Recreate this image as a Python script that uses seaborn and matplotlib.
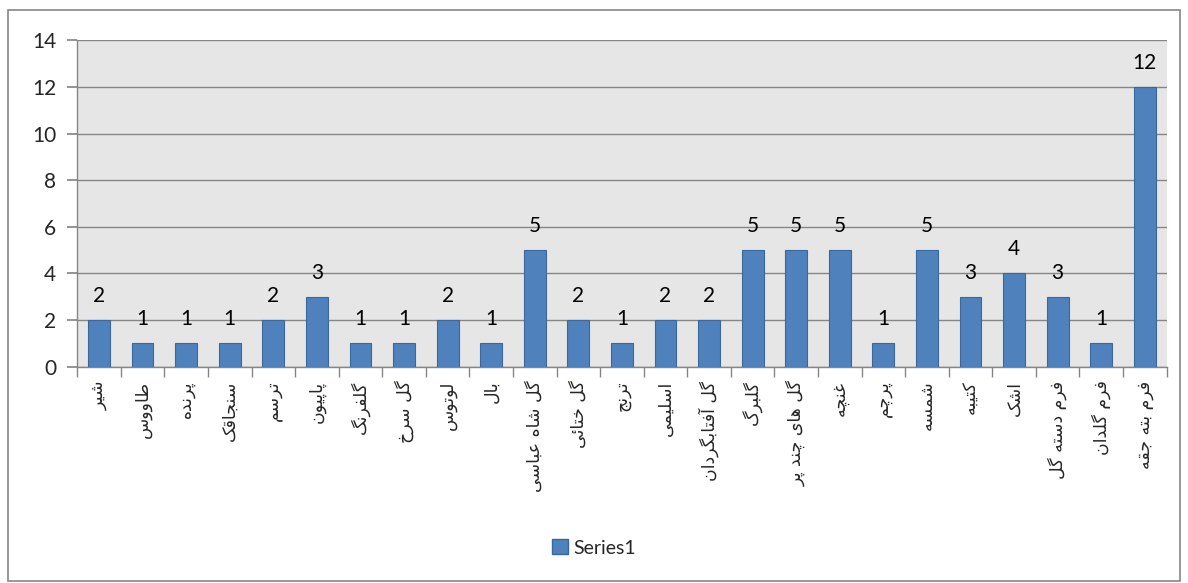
import matplotlib
matplotlib.use("Agg")
import matplotlib.pyplot as plt
import seaborn as sns
import pandas as pd
import numpy as np
from matplotlib.patches import Rectangle
from matplotlib.ticker import FixedLocator

# data
labels = ["شیر", "طاووس", "پرنده", "سنجاقک", "ترسم", "پاپیون", "گلفرنگ", "گل سرخ",
          "لوتوس", "بال", "گل شاه عباسی", "گل ختائی", "ترنج", "اسلیمی",
          "گل آفتابگردان", "گلبرگ", "گل های چند پر", "غنچه", "پرچم", "شمسه",
          "کتیبه", "اشک", "فرم دسته گل", "فرم گلدان", "فرم بته جقه"]
values = [2, 1, 1, 1, 2, 3, 1, 1, 2, 1, 5, 2, 1, 2, 2, 5, 5, 5, 1, 5, 3, 4, 3, 1, 12]
series_name = "Series1"
y_ticks = [0, 2, 4, 6, 8, 10, 12, 14]

# minimal Persian shaping: (isolated, final, initial, medial)
FORMS = {
    'ا': (0xFE8D, 0xFE8E, None, None), 'آ': (0xFE81, 0xFE82, None, None),
    'ب': (0xFE8F, 0xFE90, 0xFE91, 0xFE92), 'پ': (0xFB56, 0xFB57, 0xFB58, 0xFB59),
    'ت': (0xFE95, 0xFE96, 0xFE97, 0xFE98), 'ث': (0xFE99, 0xFE9A, 0xFE9B, 0xFE9C),
    'ج': (0xFE9D, 0xFE9E, 0xFE9F, 0xFEA0), 'چ': (0xFB7A, 0xFB7B, 0xFB7C, 0xFB7D),
    'ح': (0xFEA1, 0xFEA2, 0xFEA3, 0xFEA4), 'خ': (0xFEA5, 0xFEA6, 0xFEA7, 0xFEA8),
    'د': (0xFEA9, 0xFEAA, None, None), 'ذ': (0xFEAB, 0xFEAC, None, None),
    'ر': (0xFEAD, 0xFEAE, None, None), 'ز': (0xFEAF, 0xFEB0, None, None),
    'ژ': (0xFB8A, 0xFB8B, None, None),
    'س': (0xFEB1, 0xFEB2, 0xFEB3, 0xFEB4), 'ش': (0xFEB5, 0xFEB6, 0xFEB7, 0xFEB8),
    'ص': (0xFEB9, 0xFEBA, 0xFEBB, 0xFEBC), 'ض': (0xFEBD, 0xFEBE, 0xFEBF, 0xFEC0),
    'ط': (0xFEC1, 0xFEC2, 0xFEC3, 0xFEC4), 'ظ': (0xFEC5, 0xFEC6, 0xFEC7, 0xFEC8),
    'ع': (0xFEC9, 0xFECA, 0xFECB, 0xFECC), 'غ': (0xFECD, 0xFECE, 0xFECF, 0xFED0),
    'ف': (0xFED1, 0xFED2, 0xFED3, 0xFED4), 'ق': (0xFED5, 0xFED6, 0xFED7, 0xFED8),
    'ک': (0xFB8E, 0xFB8F, 0xFB90, 0xFB91), 'گ': (0xFB92, 0xFB93, 0xFB94, 0xFB95),
    'ل': (0xFEDD, 0xFEDE, 0xFEDF, 0xFEE0), 'م': (0xFEE1, 0xFEE2, 0xFEE3, 0xFEE4),
    'ن': (0xFEE5, 0xFEE6, 0xFEE7, 0xFEE8), 'و': (0xFEED, 0xFEEE, None, None),
    'ه': (0xFEE9, 0xFEEA, 0xFEEB, 0xFEEC), 'ی': (0xFBFC, 0xFBFD, 0xFBFE, 0xFBFF),
    'ئ': (0xFE89, 0xFE8A, 0xFE8B, 0xFE8C),
}


def shape(text):
    out = []
    for i, c in enumerate(text):
        if c not in FORMS:
            out.append(c)
            continue
        prev = text[i - 1] if i > 0 else None
        nxt = text[i + 1] if i + 1 < len(text) else None
        joins_prev = prev in FORMS and FORMS[prev][2] is not None
        joins_next = FORMS[c][2] is not None and nxt in FORMS
        iso, fin, ini, med = FORMS[c]
        if joins_prev and joins_next:
            code = med
        elif joins_prev:
            code = fin
        elif joins_next:
            code = ini
        else:
            code = iso
        out.append(chr(code))
    return "".join(out)[::-1]


df = pd.DataFrame({"motif": [shape(s) for s in labels], "count": values})

sns.set_theme(style="white")
plt.rcParams['font.family'] = ['Lato', 'DejaVu Sans']

fig = plt.figure(figsize=(11.88, 5.83), dpi=100)
ax = fig.add_axes([0.065, 0.371, 0.917, 0.560])
ax.set_facecolor("#E6E6E6")

sns.barplot(data=df, x="motif", y="count", color="#4F81BD", width=0.5,
            edgecolor="#3A679C", linewidth=0.8, saturation=1, ax=ax, zorder=3)

for i, v in enumerate(values):
    ax.text(i, v + 0.6, str(v), ha="center", va="bottom", fontsize=15, color="#000000")

ax.set_ylim(0, 14)
ax.set_xlim(-0.5, len(labels) - 0.5)
ax.set_yticks(y_ticks)
ax.set_yticklabels([str(t) for t in y_ticks], fontsize=15)
ax.yaxis.grid(True, color="#868686", linewidth=1, zorder=0)
ax.set_axisbelow(True)
ax.tick_params(axis="y", length=7, color="#868686", pad=8, left=True)
ax.set_xticks(range(len(labels)))
ax.set_xticklabels(df["motif"], rotation=90, fontsize=12.5, family=['DejaVu Sans'],
                   va="top", ha="center")
ax.tick_params(axis="x", which="major", length=0, pad=10)
ax.xaxis.set_minor_locator(FixedLocator(np.arange(-0.5, len(labels), 1.0)))
ax.tick_params(axis="x", which="minor", length=7, color="#868686", bottom=True)
ax.set_xlabel("")
ax.set_ylabel("")
for side in ["top", "right"]:
    ax.spines[side].set_visible(False)
for side in ["left", "bottom"]:
    ax.spines[side].set_color("#868686")
    ax.spines[side].set_linewidth(1)

fig.legend(handles=[Rectangle((0, 0), 1, 1, facecolor="#4F81BD", edgecolor="#3A679C")],
           labels=[series_name], loc="center", bbox_to_anchor=(0.5, 0.06),
           frameon=False, fontsize=14, handlelength=0.8, handleheight=0.8,
           handletextpad=0.3)

fig.patches.append(Rectangle((0.007, 0.004), 0.986, 0.978, transform=fig.transFigure,
                             fill=False, edgecolor="#868686", linewidth=1.2))

fig.savefig("out.png", dpi=100)
